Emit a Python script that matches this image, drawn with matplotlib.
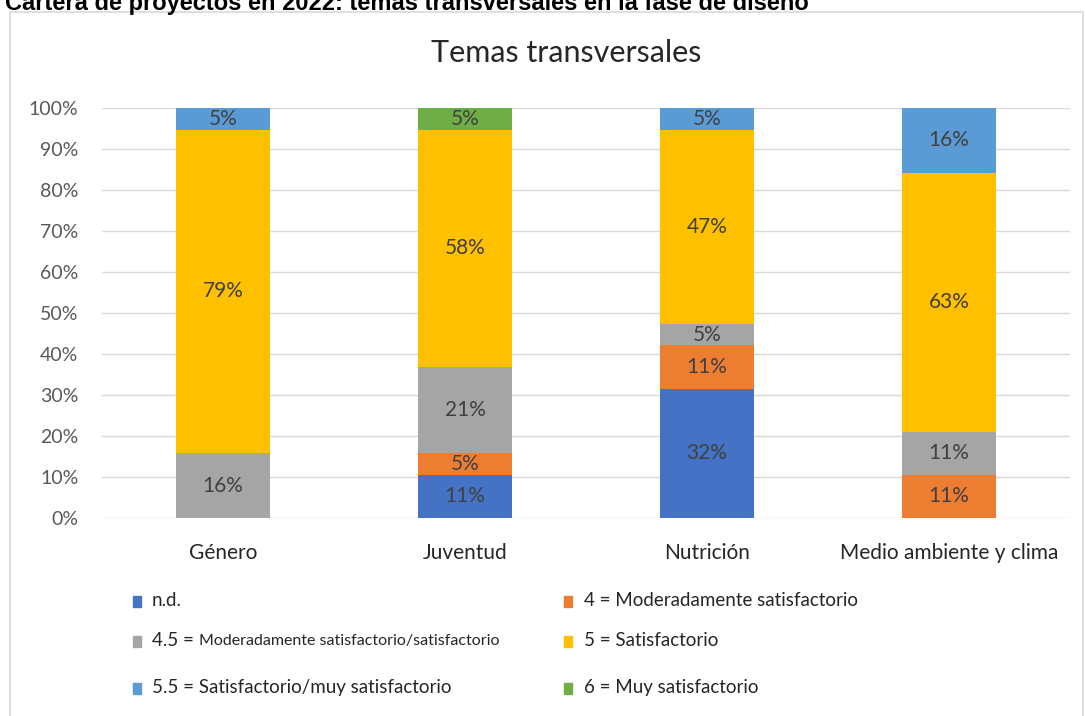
import numpy as np
import matplotlib.pyplot as plt
from matplotlib.patches import Rectangle

# Data (share of projects, 19 per theme)
categories = ['Género', 'Juventud', 'Nutrición', 'Medio ambiente y clima']
series_names = ['n.d.', '4 = Moderadamente satisfactorio',
                '4.5 = Moderadamente satisfactorio/satisfactorio', '5 = Satisfactorio',
                '5.5 = Satisfactorio/muy satisfactorio', '6 = Muy satisfactorio']
nd = [0, 10.53, 31.58, 0]
mod_sat = [0, 5.26, 10.53, 10.53]
mod_sat_sat = [15.79, 21.05, 5.26, 10.53]
sat = [78.95, 57.89, 47.37, 63.16]
sat_muy = [5.26, 0, 5.26, 15.79]
muy_sat = [0, 5.26, 0, 0]
series = [nd, mod_sat, mod_sat_sat, sat, sat_muy, muy_sat]
colors = ['#4472C4', '#ED7D31', '#A5A5A5', '#FFC000', '#5B9BD5', '#70AD47']
yticks = list(range(0, 101, 10))

W, H = 1085, 716
plt.rcParams['font.family'] = ['Lato', 'DejaVu Sans']
fig = plt.figure(figsize=(W / 100, H / 100), dpi=100)

# chart frame
fig.patches.append(Rectangle((10 / W, -0.05), (1083 - 10) / W, 1 - 12 / H + 0.05,
                             transform=fig.transFigure, fill=False,
                             edgecolor='#D9D9D9', linewidth=1.2))

# report heading, cut at the top edge as in the source
fig.text(5 / W, 1 - 10 / H, 'Cartera de proyectos en 2022: temas transversales en la fase de diseño',
         fontsize=17, fontweight='bold', family='Liberation Sans', va='baseline', ha='left')

ax = fig.add_axes([102 / W, 1 - 518 / H, (1070 - 102) / W, (518 - 108) / H])
x = np.arange(len(categories))
bottom = np.zeros(len(categories))
for vals, col in zip(series, colors):
    vals = np.array(vals)
    ax.bar(x, vals, bottom=bottom, width=0.39, color=col, zorder=3)
    for xi, v, b in zip(x, vals, bottom):
        if v > 0:
            ax.text(xi, b + v / 2, f'{v:.0f}%', ha='center', va='center',
                    fontsize=15, color='#404040', zorder=4)
    bottom += vals

ax.set_xlim(-0.5, len(categories) - 0.5)
ax.set_ylim(0, 100)
ax.set_yticks(yticks)
ax.set_yticklabels([f'{t}%' for t in yticks], fontsize=14, color='#595959')
ax.set_xticks(x)
ax.set_xticklabels(categories, fontsize=15, color='#262626')
ax.tick_params(length=0)
ax.tick_params(axis='y', pad=17)
ax.tick_params(axis='x', pad=18)
ax.grid(axis='y', color='#D9D9D9', linewidth=1, zorder=0)
for s in ax.spines.values():
    s.set_visible(False)

fig.text(566 / W, 1 - 53 / H, 'Temas transversales', fontsize=22, color='#262626',
         ha='center', va='center')

# legend, drawn by hand in two columns
leg_x = [(137, 152), (568, 584)]
leg_y = [601, 641, 688]
for i, (name, col) in enumerate(zip(series_names, colors)):
    mx, tx = leg_x[i % 2]
    yy = leg_y[i // 2]
    fig.patches.append(Rectangle(((mx - 4) / W, 1 - (yy + 6) / H), 8 / W, 11 / H,
                                 transform=fig.transFigure, color=col))
    if name.startswith('4.5'):
        head, rest = name.split(' = ', 1)
        t = fig.text(tx / W, 1 - yy / H, head + ' = ', fontsize=13.5, color='#262626',
                     va='center', ha='left')
        ax.annotate(rest, xy=(1, 0.5), xycoords=t, fontsize=11.5, color='#262626',
                    va='center', ha='left', annotation_clip=False)
    else:
        fig.text(tx / W, 1 - yy / H, name, fontsize=13.5, color='#262626',
                 va='center', ha='left')

fig.savefig('out.png', dpi=100)
